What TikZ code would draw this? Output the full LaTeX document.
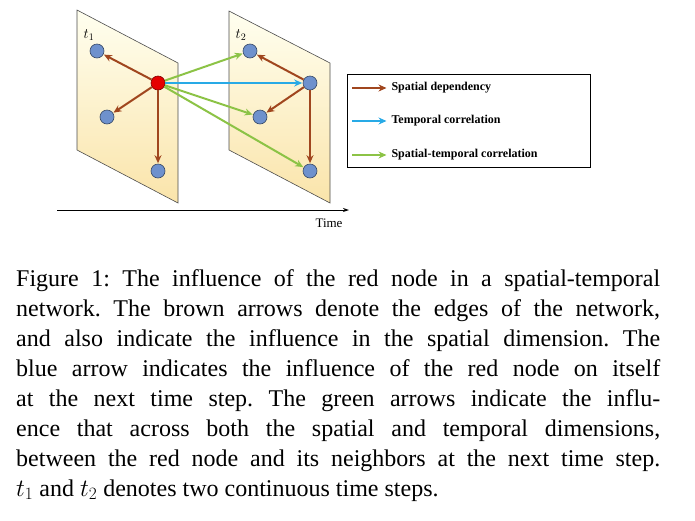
\documentclass[tikz,border=0pt]{standalone}
\usepackage{fontspec}
\setmainfont{Liberation Serif}
\usetikzlibrary{arrows.meta}
\definecolor{brn}{RGB}{160,70,30}
\definecolor{blu}{RGB}{40,170,230}
\definecolor{grn}{RGB}{140,195,70}
\definecolor{nd}{RGB}{110,145,205}
\begin{document}
\frenchspacing
\begin{tikzpicture}[x=1pt,y=-1pt,
  plane/.style={draw=black!70,line width=0.6pt,top color=yellow!6,bottom color={rgb,255:red,250;green,228;blue,170}},
  nd/.style={circle,draw=nd!50!black,fill=nd,minimum size=14pt,inner sep=0pt,line width=0.6pt},
  rd/.style={circle,draw=red!50!black,fill=red!90!black,minimum size=14pt,inner sep=0pt,line width=0.6pt},
  ar/.style={-{Stealth[length=8pt,width=7pt]},line width=2pt,shorten >=0.5pt},
  lg/.style={font=\bfseries\fontsize{12}{14}\selectfont,anchor=west}]
\useasboundingbox (0,0) rectangle (695,520);
\path[plane] (77,10) -- (178,63) -- (178,203) -- (77,150) -- cycle;
\path[plane] (229,11) -- (330,63) -- (330,203) -- (229,150) -- cycle;
\node[font=\fontsize{14}{16}\selectfont] at (89,35) {$t_1$};
\node[font=\fontsize{14}{16}\selectfont] at (241,35) {$t_2$};
\node[nd] (a1) at (97,51) {};
\node[rd] (r) at (158,83) {};
\node[nd] (a3) at (107,117) {};
\node[nd] (a4) at (158,171) {};
\node[nd] (b1) at (250,51) {};
\node[nd] (b2) at (310,83) {};
\node[nd] (b3) at (260,117) {};
\node[nd] (b4) at (310,171) {};
\draw[ar,brn] (r) -- (a1);
\draw[ar,brn] (r) -- (a3);
\draw[ar,brn] (r) -- (a4);
\draw[ar,brn] (b2) -- (b1);
\draw[ar,brn] (b2) -- (b3);
\draw[ar,brn] (b2) -- (b4);
\draw[ar,grn] (r) -- (b1);
\draw[ar,grn] (r) -- (b3);
\draw[ar,grn] (r) -- (b4);
\draw[ar,blu] (r) -- (b2);
\coordinate (t0) at (57,210);
\coordinate (t1) at (349,210);
\draw[-{Stealth[length=6pt,width=4pt]},line width=0.9pt] (t0) -- (t1);
\node[font=\fontsize{13}{15}\selectfont] (tm) at (329,223) {Time};
\draw[line width=0.8pt] (347,74) rectangle (590,167);
\coordinate (l1a) at (352,88); \coordinate (l1b) at (387,88);
\coordinate (l2a) at (352,121); \coordinate (l2b) at (387,121);
\coordinate (l3a) at (352,155); \coordinate (l3b) at (387,155);
\draw[ar,brn,line width=1.5pt] (l1a) -- (l1b);
\draw[ar,blu,line width=1.5pt] (l2a) -- (l2b);
\draw[ar,grn,line width=1.5pt] (l3a) -- (l3b);
\node[lg] at (388,88) {Spatial dependency};
\node[lg] at (388,121) {Temporal correlation};
\node[lg] at (388,155) {Spatial-temporal correlation};
\node[anchor=north west,inner sep=0pt,text width=644pt,align=justify,font=\fontsize{24}{30}\selectfont] (cap) at (16,269) {\hbadness=10000 Figure 1: The influence of the red node in a spatial-temporal\linebreak network. The brown arrows denote the edges of the network,\linebreak and also indicate the influence in the spatial dimension. The\linebreak blue arrow indicates the influence of the red node on itself\linebreak at the next time step. The green arrows indicate the influ-\linebreak ence that across both the spatial and temporal dimensions,\linebreak between the red node and its neighbors at the next time step.\linebreak $t_1$ and $t_2$ denotes two continuous time steps.};
\end{tikzpicture}
\end{document}
